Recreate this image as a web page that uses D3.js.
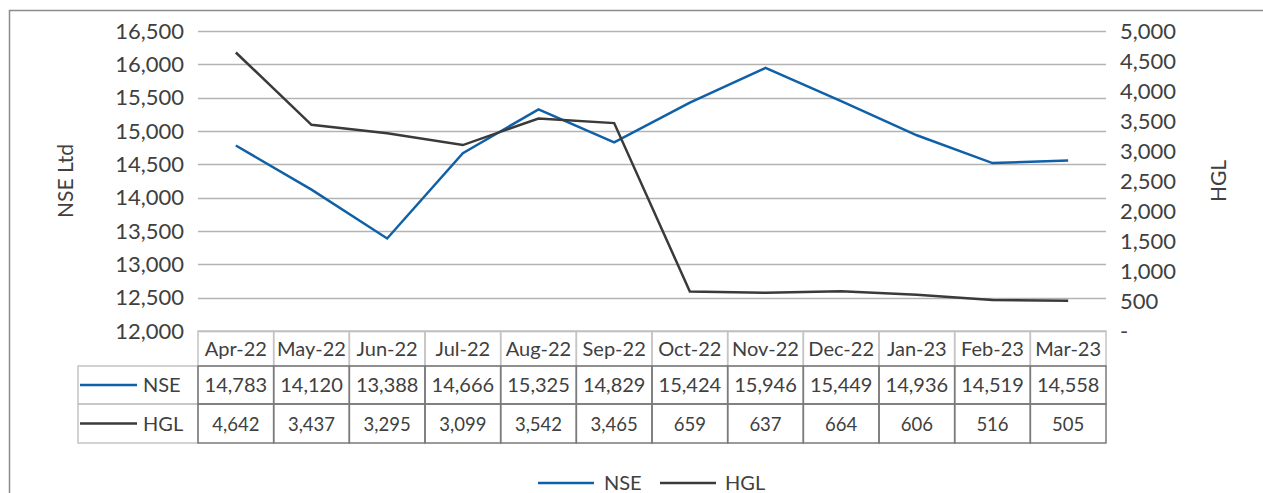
<!DOCTYPE html>
<html><head><meta charset="utf-8">
<script src="https://cdn.jsdelivr.net/npm/d3@7"></script>
<style>
body{margin:0;background:#fff;}
text{font-family:Lato,"Open Sans",sans-serif;fill:#404040;}
</style></head>
<body><svg id="c" width="1263" height="493"></svg>
<script>
const categories=["Apr-22","May-22","Jun-22","Jul-22","Aug-22","Sep-22","Oct-22","Nov-22","Dec-22","Jan-23","Feb-23","Mar-23"];
const nseValues=[14783,14120,13388,14666,15325,14829,15424,15946,15449,14936,14519,14558];
const hglValues=[4642,3437,3295,3099,3542,3465,659,637,664,606,516,505];
const leftTicks=[12000,12500,13000,13500,14000,14500,15000,15500,16000,16500];
const rightTicks=[0,500,1000,1500,2000,2500,3000,3500,4000,4500,5000];
const seriesNames=["NSE","HGL"];

const svg=d3.select("#c");
const L=198,R=1106,T=31,B=331;
const NSEc="#1060a8",HGLc="#3a3a3a";
svg.append("rect").attr("x",9.5).attr("y",10.5).attr("width",1300).attr("height",600).attr("fill","none").attr("stroke","#8c8c8c").attr("stroke-width",1.5);

const x=d3.scaleBand().domain(categories).range([L,R]);
const yL=d3.scaleLinear().domain([12000,16500]).range([B,T]);
const yR=d3.scaleLinear().domain([0,5000]).range([B,T]);
const fmt=d3.format(",");

// grid
svg.append("g").selectAll("line").data(leftTicks).join("line")
 .attr("x1",L).attr("x2",R).attr("y1",d=>Math.round(yL(d))+0.5).attr("y2",d=>Math.round(yL(d))+0.5)
 .attr("stroke","#b3b3b3").attr("stroke-width",1.3);

// left axis
const ga=svg.append("g").attr("transform",`translate(${L-14},0)`)
 .call(d3.axisLeft(yL).tickValues(leftTicks).tickFormat(fmt).tickSize(0).tickPadding(0));
ga.select(".domain").remove();
ga.selectAll("text").style("font-size","22px").style("font-family","Lato").attr("fill","#404040");
// right axis
const gr=svg.append("g").attr("transform",`translate(${R+14},0)`)
 .call(d3.axisRight(yR).tickValues(rightTicks).tickFormat(d=>d===0?"-":fmt(d)).tickSize(0).tickPadding(0));
gr.select(".domain").remove();
gr.selectAll("text").style("font-size","22px").style("font-family","Lato").attr("fill","#404040");

svg.append("text").attr("transform","translate(73,181) rotate(-90)").attr("text-anchor","middle").style("font-size","21px").text("NSE Ltd");
svg.append("text").attr("transform","translate(1226,181) rotate(-90)").attr("text-anchor","middle").style("font-size","21px").text("HGL");

// lines
const cx=d=>x(d)+x.bandwidth()/2;
svg.append("path").datum(nseValues).attr("fill","none").attr("stroke",NSEc).attr("stroke-width",2.5)
 .attr("d",d3.line().x((d,i)=>cx(categories[i])).y(d=>yL(d)));
svg.append("path").datum(hglValues).attr("fill","none").attr("stroke",HGLc).attr("stroke-width",2.5)
 .attr("d",d3.line().x((d,i)=>cx(categories[i])).y(d=>yR(d)));

// data table
const r0=B,r1=366,r2=404,r3=443,legL=78;
const tb=svg.append("g");
tb.selectAll(".h").data(categories).join("rect").attr("x",d=>x(d)).attr("y",r0).attr("width",x.bandwidth()).attr("height",r1-r0)
 .attr("fill","none").attr("stroke","#c4c4c4").attr("stroke-width",1.5);
tb.selectAll(".ht").data(categories).join("text").attr("x",cx).attr("y",(r0+r1)/2+7).attr("text-anchor","middle")
 .style("font-size","20px").text(d=>d);
[[r1,r2],[r2,r3]].forEach((r,i)=>{
 tb.append("rect").attr("x",legL).attr("y",r[0]).attr("width",L-legL).attr("height",r[1]-r[0]).attr("fill","none").attr("stroke","#c4c4c4").attr("stroke-width",1.5);
});
const rows=[{name:seriesNames[0],vals:nseValues,c:NSEc,y0:r1,y1:r2,fs:20},{name:seriesNames[1],vals:hglValues,c:HGLc,y0:r2,y1:r3,fs:18.5}];
rows.forEach(r=>{
 const ym=(r.y0+r.y1)/2;
 tb.append("line").attr("x1",80).attr("x2",137).attr("y1",ym).attr("y2",ym).attr("stroke",r.c).attr("stroke-width",2.5);
 tb.append("text").attr("x",143).attr("y",ym+7).style("font-size","20px").text(r.name);
 tb.selectAll(null).data(categories).join("rect").attr("x",d=>x(d)).attr("y",r.y0).attr("width",x.bandwidth()).attr("height",r.y1-r.y0)
  .attr("fill","none").attr("stroke","#7a7a7a").attr("stroke-width",1.5);
 tb.selectAll(null).data(r.vals).join("text").attr("x",(d,i)=>cx(categories[i])).attr("y",ym+7).attr("text-anchor","middle")
  .style("font-size",r.fs+"px").text(d=>fmt(d));
});

// legend
const lg=svg.append("g");
[[538,594,604,NSEc,"NSE"],[660,716,725,HGLc,"HGL"]].forEach(a=>{
 lg.append("line").attr("x1",a[0]).attr("x2",a[1]).attr("y1",483).attr("y2",483).attr("stroke",a[3]).attr("stroke-width",2.5);
 lg.append("text").attr("x",a[2]).attr("y",490).style("font-size","20px").text(a[4]);
});
</script></body></html>
